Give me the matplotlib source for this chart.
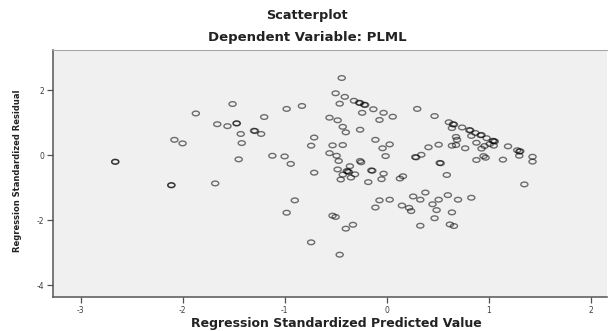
import numpy as np
import matplotlib
matplotlib.use("Agg")
import matplotlib.pyplot as plt
from matplotlib.path import Path

# standardized predicted values (x) and standardized residuals (y)
pred = [-2.66, -2.66, -2.11, -2.11, -2.08, -2.00, -1.87, -1.68, -1.66, -1.56,
        -1.51, -1.47, -1.47, -1.45, -1.43, -1.42, -1.29, -1.30, -1.23, -1.20,
        -1.12, -1.00, -0.98, -0.98, -0.94, -0.90, -0.83, -0.74, -0.74, -0.71,
        -0.71, -0.56, -0.56, -0.53, -0.50, -0.53, -0.50, -0.48, -0.49, -0.47,
        -0.48, -0.46, -0.45, -0.46, -0.44, -0.43, -0.43, -0.43, -0.41, -0.40,
        -0.40, -0.39, -0.38, -0.37, -0.36, -0.35, -0.33, -0.32, -0.31, -0.26,
        -0.27, -0.26, -0.26, -0.25, -0.24, -0.21, -0.22, -0.18, -0.14, -0.15,
        -0.13, -0.11, -0.11, -0.07, -0.07, -0.04, -0.03, -0.03, -0.05, -0.01,
        0.03, 0.03, 0.06, 0.13, 0.16, 0.15, 0.22, 0.24, 0.26, 0.29,
        0.28, 0.30, 0.33, 0.33, 0.34, 0.38, 0.41, 0.45, 0.47, 0.47,
        0.49, 0.51, 0.51, 0.53, 0.52, 0.59, 0.60, 0.61, 0.62, 0.64,
        0.64, 0.64, 0.65, 0.66, 0.66, 0.68, 0.68, 0.69, 0.70, 0.74,
        0.77, 0.82, 0.81, 0.83, 0.83, 0.87, 0.88, 0.88, 0.92, 0.93,
        0.93, 0.95, 0.96, 0.97, 0.98, 1.01, 1.05, 1.06, 1.04, 1.05,
        1.14, 1.19, 1.28, 1.30, 1.31, 1.30, 1.35, 1.43, 1.43]
resid = [-0.21, -0.20, -0.93, -0.92, 0.47, 0.36, 1.28, -0.87, 0.95, 0.89,
         1.57, 0.97, 0.98, -0.13, 0.65, 0.37, 0.74, 0.75, 0.65, 1.17,
         -0.02, -0.04, 1.42, -1.77, -0.27, -1.39, 1.51, -2.68, 0.29, 0.54,
         -0.54, 1.15, 0.06, -1.86, -1.90, 0.30, 1.90, 1.07, -0.02, -0.18,
         -0.44, 1.58, -0.75, -3.06, 2.37, 0.31, 0.87, -0.60, 1.79, 0.70,
         -2.26, -0.49, -0.50, -0.52, -0.34, -0.69, -2.14, 1.67, -0.59, 1.60,
         1.61, 0.78, -0.18, -0.22, 1.30, 1.54, 1.55, -0.83, -0.48, -0.47,
         1.41, 0.47, -1.61, -1.39, 1.08, 0.21, 1.30, -0.57, -0.74, -0.03,
         -1.37, 0.33, 1.18, -0.72, -0.65, -1.55, -1.62, -1.72, -1.27, -0.07,
         -0.06, 1.42, -2.17, -1.37, 0.01, -1.15, 0.24, -1.51, -1.94, 1.20,
         -1.69, 0.32, -1.37, -0.25, -0.24, -0.61, -1.23, 1.01, -2.13, -1.76,
         0.83, 0.29, 0.95, 0.94, -2.18, 0.56, 0.31, 0.47, -1.37, 0.85,
         0.21, 0.76, 0.77, 0.59, -1.31, 0.68, 0.38, -0.15, 0.61, 0.62,
         0.20, -0.03, 0.28, -0.08, 0.52, 0.34, 0.43, 0.42, 0.44, 0.29,
         -0.14, 0.27, 0.15, 0.11, 0.12, -0.02, -0.90, -0.05, -0.20]

x_ticks = [-3, -2, -1, 0, 1, 2]
y_ticks = [-4, -2, 0, 2]

# SPSS draws the rings slightly flattened in this export
t = np.linspace(0, 2 * np.pi, 60)
ring = Path(np.column_stack([np.cos(t), 0.66 * np.sin(t)]), closed=True)

fig = plt.figure(figsize=(6.08, 3.31), dpi=100)
ax = fig.add_axes([53 / 608, 34 / 331, 554 / 608, 247 / 331])
ax.set_facecolor('#f0f0f0')

ax.scatter(pred, resid, s=26, marker=ring, facecolors='none',
           edgecolors=(0, 0, 0, 0.55), linewidths=1.0)

ax.set_xlim(-3.27, 2.16)
ax.set_ylim(-4.36, 3.23)
ax.set_xticks(x_ticks)
ax.set_yticks(y_ticks)
ax.set_xticklabels([str(v) for v in x_ticks])
ax.set_yticklabels([str(v) for v in y_ticks])
ax.tick_params(axis='both', direction='out', length=4, width=0.9,
               color='#505050', labelcolor='#404040', labelsize=5.5, pad=2.5)

for side in ['left', 'bottom']:
    ax.spines[side].set_color('#555555')
    ax.spines[side].set_linewidth(1.1)
ax.spines['top'].set_color('#a8a8a8')
ax.spines['top'].set_linewidth(0.8)
ax.spines['right'].set_visible(False)

fig.text(0.505, 1 - 16 / 331, 'Scatterplot', ha='center', va='center',
         fontsize=9.3, fontweight='bold', color='#222222')
fig.text(0.505, 1 - 38 / 331, 'Dependent Variable: PLML', ha='center', va='center',
         fontsize=9.5, fontweight='bold', color='#222222')
fig.text(336 / 608, 8 / 331, 'Regression Standardized Predicted Value',
         ha='center', va='center', fontsize=9, fontweight='bold', color='#222222')
fig.text(17.5 / 608, 1 - 170.5 / 331, 'Regression Standardized Residual',
         ha='center', va='center', rotation=90, fontsize=6, fontweight='bold',
         color='#222222')

fig.savefig('out.png', dpi=100, facecolor='white')
